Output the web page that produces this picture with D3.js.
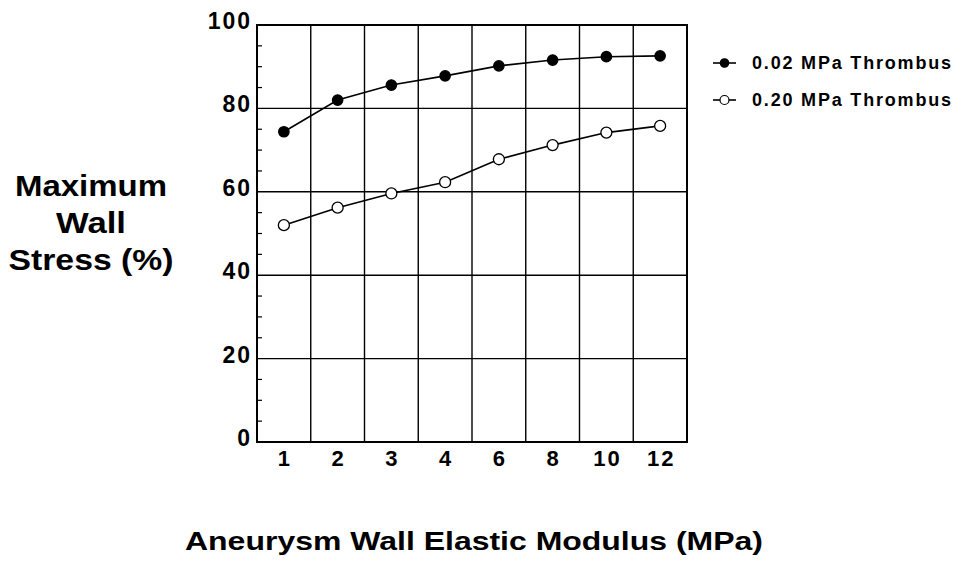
<!DOCTYPE html>
<html lang="en">
<head>
    <meta charset="UTF-8">
    <title>Maximum Wall Stress</title>
    <script src="https://cdn.jsdelivr.net/npm/d3@7"></script>
    <style>
        body { margin: 0; background: white; }
        text { font-family: "Liberation Sans", Arial, sans-serif; font-weight: bold; fill: black; }
        .grid line { stroke: black; stroke-width: 1.4; }
        .tick text { font-size: 23px; letter-spacing: 2px; }
    </style>
</head>
<body>
<script>
    // data
    const moduli  = ["1", "2", "3", "4", "6", "8", "10", "12"];
    const soft    = [74.4, 82.0, 85.6, 87.8, 90.2, 91.6, 92.4, 92.6];   // 0.02 MPa thrombus
    const stiff   = [52.0, 56.2, 59.6, 62.3, 67.8, 71.2, 74.2, 75.8];   // 0.20 MPa thrombus
    const yTicks  = [0, 20, 40, 60, 80, 100];
    const seriesNames = ["0.02 MPa Thrombus", "0.20 MPa Thrombus"];

    const width = 957, height = 569;
    const plot = { left: 257, right: 687, top: 25, bottom: 442 };

    const svg = d3.select("body").append("svg")
        .attr("width", width)
        .attr("height", height);

    const x = d3.scaleBand().domain(moduli).range([plot.left, plot.right]).padding(0);
    const y = d3.scaleLinear().domain([0, 100]).range([plot.bottom, plot.top]);

    // grid
    const grid = svg.append("g").attr("class", "grid");
    grid.selectAll("line.v")
        .data(moduli.slice(1))
        .join("line").attr("class", "v")
        .attr("x1", d => x(d)).attr("x2", d => x(d))
        .attr("y1", plot.top).attr("y2", plot.bottom);
    grid.selectAll("line.h")
        .data(yTicks.slice(1, -1))
        .join("line").attr("class", "h")
        .attr("x1", plot.left).attr("x2", plot.right)
        .attr("y1", d => y(d)).attr("y2", d => y(d));

    // minor ticks every 5, pointing inward
    const minor = d3.range(5, 100, 5).filter(v => v % 20 !== 0);
    svg.append("g").selectAll("line")
        .data(minor)
        .join("line")
        .attr("x1", plot.left).attr("x2", plot.left + 5)
        .attr("y1", d => y(d)).attr("y2", d => y(d))
        .attr("stroke", "black").attr("stroke-width", 1.2);

    // frame
    svg.append("rect")
        .attr("x", plot.left).attr("y", plot.top)
        .attr("width", plot.right - plot.left).attr("height", plot.bottom - plot.top)
        .attr("fill", "none").attr("stroke", "black").attr("stroke-width", 2);

    // axes
    const yAxis = svg.append("g")
        .attr("transform", `translate(${plot.left},0)`)
        .call(d3.axisLeft(y).tickValues(yTicks).tickSize(0).tickPadding(5));
    yAxis.select(".domain").remove();
    yAxis.selectAll("text").attr("dy", "0.15em");

    const xAxis = svg.append("g")
        .attr("transform", `translate(0,${plot.bottom})`)
        .call(d3.axisBottom(x).tickSize(0).tickPadding(8));
    xAxis.select(".domain").remove();
    xAxis.selectAll("text").style("font-size", "22px").attr("dx", "0.05em");

    // series
    const line = d3.line().x((d, i) => x(moduli[i]) + x.bandwidth() / 2).y(d => y(d));
    const series = [
        { name: seriesNames[0], values: soft, fill: "black", r: 5.2 },
        { name: seriesNames[1], values: stiff, fill: "white", r: 5.5 }
    ];

    series.forEach(s => {
        svg.append("path")
            .datum(s.values)
            .attr("d", line)
            .attr("fill", "none")
            .attr("stroke", "black")
            .attr("stroke-width", 1.6);
        svg.append("g").selectAll("circle")
            .data(s.values)
            .join("circle")
            .attr("cx", (d, i) => x(moduli[i]) + x.bandwidth() / 2)
            .attr("cy", d => y(d))
            .attr("r", s.r)
            .attr("fill", s.fill)
            .attr("stroke", "black")
            .attr("stroke-width", 1.3);
    });

    // legend
    const legend = svg.append("g").selectAll("g")
        .data(series)
        .join("g")
        .attr("transform", (d, i) => `translate(713,${63 + i * 37})`);
    legend.append("line")
        .attr("x1", 0).attr("x2", 23)
        .attr("stroke", "black").attr("stroke-width", 1.6);
    legend.append("circle")
        .attr("cx", 11.5).attr("r", d => d.r - 1)
        .attr("fill", d => d.fill)
        .attr("stroke", "black").attr("stroke-width", 1.2);
    legend.append("text")
        .attr("x", 39).attr("y", 0).attr("dy", "0.36em")
        .style("font-size", "18px")
        .attr("textLength", 199)
        .attr("lengthAdjust", "spacing")
        .text(d => d.name);

    // axis titles
    const yTitleLines = [
        { text: "Maximum", len: 152 },
        { text: "Wall", len: 70 },
        { text: "Stress (%)", len: 165 }
    ];
    svg.append("g").selectAll("text")
        .data(yTitleLines)
        .join("text")
        .attr("x", 91)
        .attr("y", (d, i) => 196 + i * 37)
        .attr("text-anchor", "middle")
        .style("font-size", "29px")
        .attr("textLength", d => d.len)
        .attr("lengthAdjust", "spacingAndGlyphs")
        .text(d => d.text);

    svg.append("text")
        .attr("x", 474).attr("y", 550)
        .attr("text-anchor", "middle")
        .style("font-size", "26px")
        .attr("textLength", 578)
        .attr("lengthAdjust", "spacingAndGlyphs")
        .text("Aneurysm Wall Elastic Modulus (MPa)");
</script>
</body>
</html>
